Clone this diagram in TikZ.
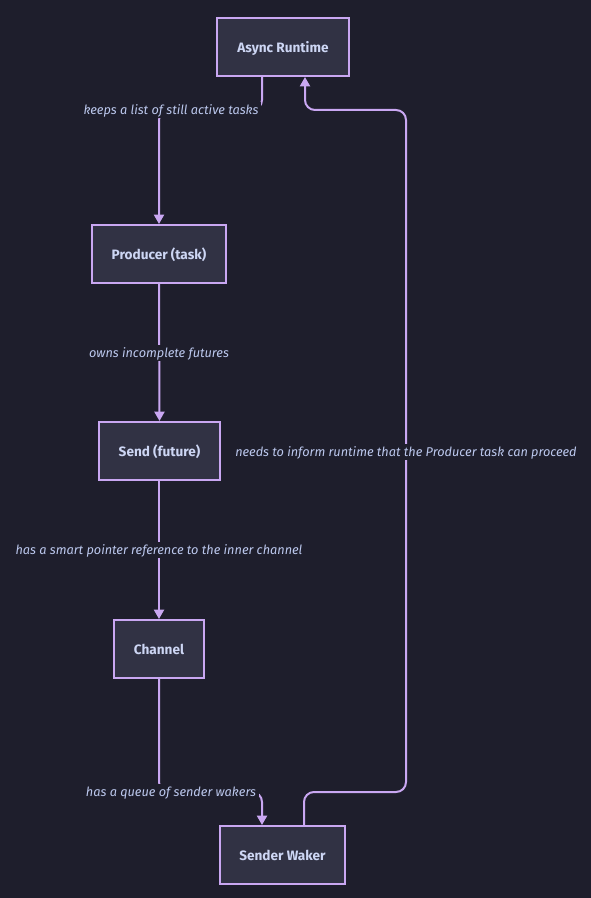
\documentclass[tikz,border=0pt]{standalone}
\usepackage{fontspec}
\setmainfont{Fira Sans}
\usetikzlibrary{arrows.meta}
\definecolor{bg}{HTML}{1E1E2C}
\definecolor{nodefill}{HTML}{313244}
\definecolor{lilac}{HTML}{C9A7F2}
\definecolor{txt}{HTML}{CDD6F4}
\definecolor{ltxt}{HTML}{BCC8EE}
\begin{document}
\begin{tikzpicture}[x=0.75pt,y=-0.75pt,
  box/.style={draw=lilac, fill=nodefill, line width=1.5pt, text=txt,
    font=\fontsize{10.2}{12}\selectfont\bfseries, inner sep=0pt,
    minimum height=43.5pt, text depth=0pt},
  lbl/.style={fill=bg, text=ltxt, font=\fontsize{9.55}{11}\selectfont\itshape,
    inner sep=2pt, text depth=0.5pt},
  edge/.style={draw=lilac, line width=1.5pt, rounded corners=7.5pt},
  tip/.style={-{Triangle[length=7pt,width=7.5pt]}}]
\fill[bg, use as bounding box] (0,0) rectangle (591,898);

\node[box, minimum width=99pt] (ar) at (283,47) {Async Runtime};
\node[box, minimum width=100.5pt] (pt) at (159,254) {Producer (task)};
\node[box, minimum width=90.75pt] (sf) at (159.5,451) {Send (future)};
\node[box, minimum width=67.5pt] (ch) at (159,649) {Channel};
\node[box, minimum width=93.75pt] (sw) at (282.5,855) {Sender Waker};

\coordinate (a1) at (262,110);
\coordinate (a2) at (159,110);
\draw[edge, tip] (ar.south -| a1) -- (a1) -- (a2) -- (pt.north);
\node[lbl] (l1) at (171,110) {keeps a list of still active tasks};

\draw[edge, tip] (pt.south) -- (sf.north);
\node[lbl] (l2) at (159,353) {owns incomplete futures};

\draw[edge, tip] (sf.south -| ch.north) -- (ch.north);
\node[lbl] (l3) at (159,550) {has a smart pointer reference to the inner channel};

\coordinate (b1) at (159,792);
\coordinate (b2) at (262,792);
\draw[edge, tip] (ch.south) -- (b1) -- (b2) -- (sw.north -| b2);
\node[lbl] (l4) at (171,792) {has a queue of sender wakers};

\coordinate (c0) at (304,826);
\coordinate (c1) at (304,792);
\coordinate (c2) at (406,792);
\coordinate (c3) at (406,110);
\coordinate (c4) at (305,110);
\coordinate (c5) at (305,76);
\draw[edge, tip] (sw.north -| c0) -- (c1) -- (c2) -- (c3) -- (c4) -- (ar.south -| c5);
\node[lbl] (l5) at (406,452) {needs to inform runtime that the Producer task can proceed};
\end{tikzpicture}
\end{document}
